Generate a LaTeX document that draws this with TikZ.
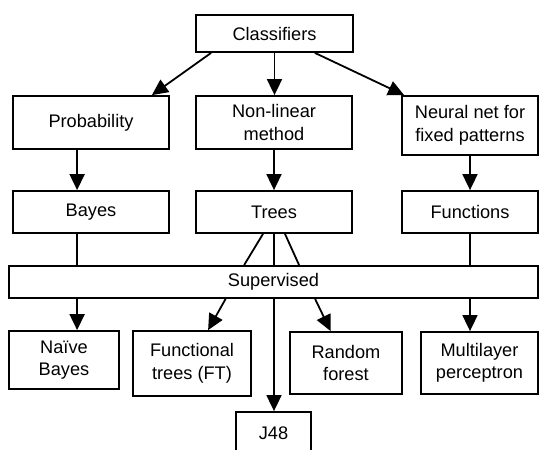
\documentclass[tikz,border=0pt]{standalone}
\usepackage{fontspec}
\setmainfont{Liberation Sans}
\usetikzlibrary{arrows.meta,calc}
\begin{document}
\begin{tikzpicture}[x=1pt,y=-1pt,
  box/.style={draw=black,line width=1.8pt,fill=white,inner sep=0pt,align=center,
    font=\fontsize{18.2}{22.5}\selectfont},
  conn/.style={line width=1.8pt,draw=black},
  arr/.style={conn,-{Triangle[width=15pt,length=16pt]}}]
\clip (0,0) rectangle (539,450);
\fill[white] (0,0) rectangle (539,450);
% nodes
\node[box,minimum width=157pt,minimum height=37pt] (cls) at (274.5,33.5) {Classifiers};
\node[box,minimum width=156pt,minimum height=53pt] (prob) at (91,122.5) {Probability};
\node[box,minimum width=156pt,minimum height=53pt] (nonlin) at (274,122.5) {Non-linear\\method};
\node[box,minimum width=136pt,minimum height=59pt] (neural) at (470,125.5) {Neural net for\\fixed patterns};
\node[box,minimum width=156pt,minimum height=42pt] (bayes) at (91,212) {Bayes};
\node[box,minimum width=156pt,minimum height=42pt] (trees) at (274,212) {Trees};
\node[box,minimum width=136pt,minimum height=42pt] (funcs) at (470,212) {Functions};
\node[box,minimum width=529pt,minimum height=32pt] (sup) at (273.5,282) {Supervised};
\node[box,minimum width=110pt,minimum height=58pt] (naive) at (64,360) {Naïve\\Bayes};
\node[box,minimum width=118pt,minimum height=65pt] (ft) at (192,363.5) {Functional\\trees (FT)};
\node[box,minimum width=112pt,minimum height=62pt] (rf) at (346,363) {Random\\forest};
\node[box,minimum width=117pt,minimum height=62pt] (mlp) at (479.5,363) {Multilayer\\perceptron};
\node[box,minimum width=75pt,minimum height=43pt] (j48) at (273.5,433.5) {J48};
% connectors, top level
\draw[arr] ($(cls.south west)+(16,0)$) -- ($(prob.north east)+(-18,0)$);
\draw[arr] (cls.south) -- (cls.south |- nonlin.north);
\draw[arr] ($(cls.south east)+(-39,0)$) -- ($(neural.north west)+(3,0)$);
% second level
\draw[arr] ($(prob.south west)+(65,0)$) -- ($(bayes.north west)+(65,0)$);
\draw[arr] (nonlin.south) -- (trees.north);
\draw[arr] (neural.south) -- (funcs.north);
% into supervised
\draw[conn] ($(bayes.south west)+(65,0)$) coordinate (bx) -- (bx |- sup.north);
\draw[conn] ($(trees.south)+(-11,0)$) -- ($(sup.north west)+(236,0)$);
\draw[conn] (trees.south) -- (trees.south |- sup.north);
\draw[conn] ($(trees.south)+(11,0)$) -- ($(sup.north west)+(291,0)$);
\draw[conn] (funcs.south) -- (funcs.south |- sup.north);
% out of supervised
\draw[arr] (bx |- sup.south) -- (bx |- naive.north);
\draw[arr] ($(sup.south west)+(217.5,0)$) -- ($(ft.north west)+(76,0)$);
\draw[arr] (trees.south |- sup.south) -- (trees.south |- j48.north);
\draw[arr] ($(sup.south west)+(307,0)$) -- ($(rf.north west)+(41.5,0)$);
\draw[arr] (funcs.south |- sup.south) -- (funcs.south |- mlp.north);
\end{tikzpicture}
\end{document}
